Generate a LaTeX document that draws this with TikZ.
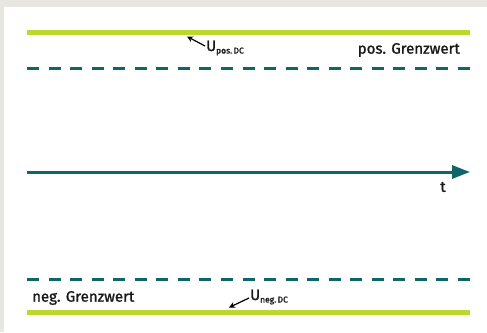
\documentclass[tikz,border=0pt]{standalone}
\usepackage{fontspec}
\setmainfont{Fira Sans}[FakeBold=1.3]
\usetikzlibrary{arrows.meta}
\definecolor{lime}{HTML}{BED72E}
\definecolor{teal}{HTML}{0E6668}
\definecolor{bggrey}{HTML}{E8E6E1}
\tikzset{
  limeline/.style={draw=lime, line width=5pt},
  dashline/.style={draw=teal, line width=3pt, dash pattern=on 12pt off 9.55pt},
  axisline/.style={draw=teal, line width=3pt, -{Triangle[length=18pt,width=13pt]}},
  lab/.style={inner sep=0pt, text=black!90, font=\fontsize{15}{17}\selectfont},
  ptr/.style={draw=black, line width=1.2pt, -{Stealth[length=6pt,width=6pt]}},
}
\newcommand{\subtxt}[1]{\raisebox{-2.5pt}{\fontsize{8.5}{9}\selectfont #1}}
\begin{document}
\begin{tikzpicture}[x=1pt,y=-1pt]
\useasboundingbox (0,0) rectangle (487,332);
\fill[bggrey] (0,0) rectangle (487,332);
\fill[white] (4,7) rectangle (487,332);
% lines
\coordinate (pl) at (27,32.5); \coordinate (pr) at (470,32.5);
\coordinate (dl1) at (27,68); \coordinate (dr1) at (470,68);
\coordinate (al) at (27,172); \coordinate (ar) at (470,172);
\coordinate (dl2) at (27,279); \coordinate (dr2) at (470,279);
\coordinate (nl) at (27,312); \coordinate (nr) at (470,312);
\draw[limeline] (pl) -- (pr);
\draw[dashline] (dl1) -- (dr1);
\draw[axisline] (al) -- (ar);
\draw[dashline] (dl2) -- (dr2);
\draw[limeline] (nl) -- (nr);
% labels
\node[lab, anchor=east] (posg) at (460,50) {pos. Grenzwert};
\node[lab, anchor=west] (negg) at (32,298) {neg. Grenzwert};
\node[lab] (t) at (443,187) {t};
\node[lab, anchor=west] (upos) at (206,48) {U\subtxt{pos.\,DC}};
\node[lab, anchor=west] (uneg) at (250,297) {U\subtxt{neg.\,DC}};
\coordinate (ptip) at (187,36.5);
\coordinate (ntip) at (229,307.5);
\draw[ptr] ([xshift=-1pt,yshift=2pt]upos.west) -- (ptip);
\draw[ptr] ([xshift=-1pt,yshift=-1pt]uneg.west) -- (ntip);
\end{tikzpicture}
\end{document}
